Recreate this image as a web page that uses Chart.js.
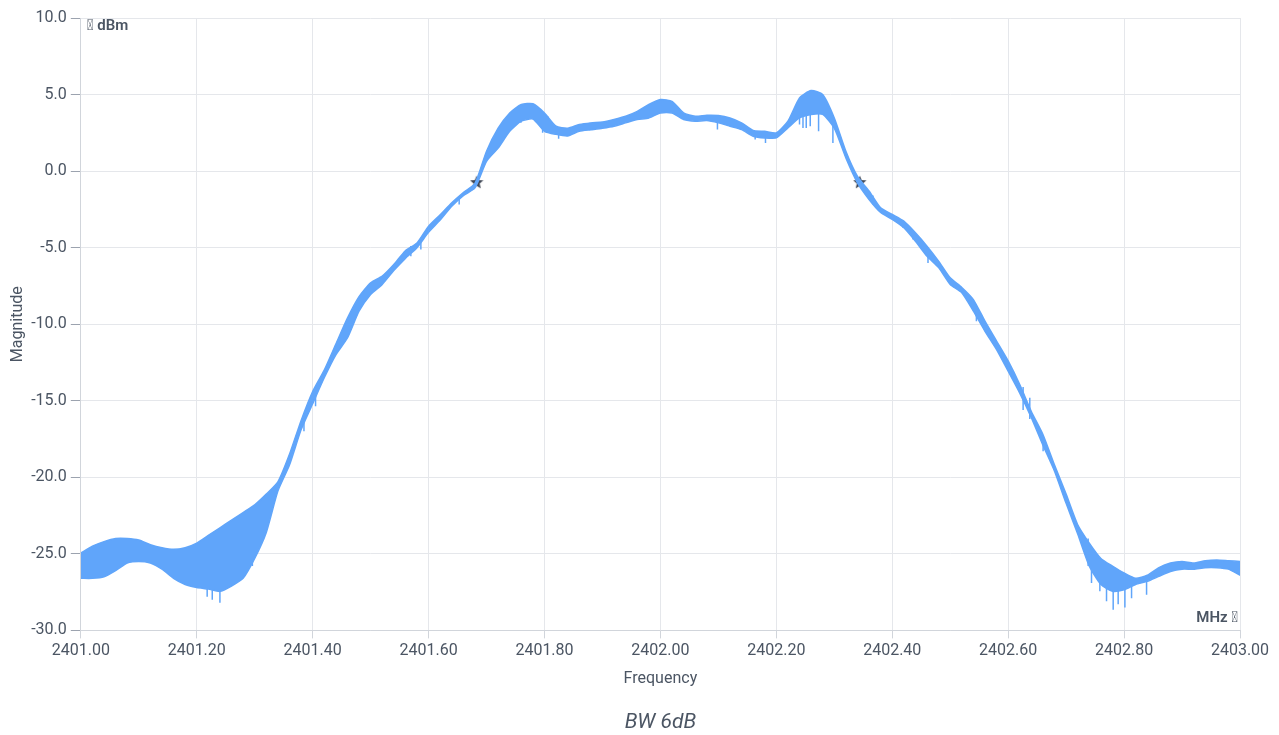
<!DOCTYPE html>
<html>
<head>
<meta charset="utf-8">
<script src="https://cdn.jsdelivr.net/npm/chart.js@4.4.0/dist/chart.umd.min.js"></script>
<style>
  body { margin: 0; background: #fff; }
  #wrap { width: 1279px; height: 735px; }
</style>
</head>
<body>
<div id="wrap"><canvas id="myChart" width="1279" height="735"></canvas></div>
<script>
// Frequencies (MHz)
var freqs = [2401.00,2401.02,2401.04,2401.06,2401.08,2401.10,2401.12,2401.14,2401.16,2401.18,
  2401.20,2401.22,2401.24,2401.26,2401.28,2401.30,2401.32,2401.34,2401.36,2401.38,
  2401.40,2401.42,2401.44,2401.46,2401.48,2401.50,2401.52,2401.54,2401.56,2401.58,
  2401.60,2401.62,2401.64,2401.66,2401.68,2401.70,2401.72,2401.74,2401.76,2401.78,
  2401.80,2401.82,2401.84,2401.86,2401.88,2401.90,2401.92,2401.94,2401.96,2401.98,
  2402.00,2402.02,2402.04,2402.06,2402.08,2402.10,2402.12,2402.14,2402.16,2402.18,
  2402.20,2402.22,2402.24,2402.26,2402.28,2402.30,2402.32,2402.34,2402.36,2402.38,
  2402.40,2402.42,2402.44,2402.46,2402.48,2402.50,2402.52,2402.54,2402.56,2402.58,
  2402.60,2402.62,2402.64,2402.66,2402.68,2402.70,2402.72,2402.74,2402.76,2402.78,
  2402.80,2402.82,2402.84,2402.86,2402.88,2402.90,2402.92,2402.94,2402.96,2402.98,2403.00];

// upper edge of the trace (dBm)
var magMax = [-24.95,-24.5,-24.2,-24.0,-24.0,-24.1,-24.4,-24.6,-24.7,-24.6,
  -24.3,-23.8,-23.3,-22.8,-22.3,-21.8,-21.1,-20.3,-18.5,-16.3,
  -14.4,-13.0,-11.3,-9.6,-8.2,-7.3,-6.86,-6.1,-5.2,-4.7,
  -3.6,-2.85,-2.07,-1.4,-0.8,1.3,2.8,3.8,4.35,4.4,
  3.8,2.93,2.8,3.04,3.15,3.2,3.37,3.58,3.9,4.35,
  4.67,4.56,3.8,3.58,3.65,3.63,3.47,3.15,2.65,2.6,
  2.5,3.26,4.78,5.26,5.0,3.47,1.3,-0.34,-1.3,-2.4,
  -2.83,-3.27,-4.03,-4.9,-5.88,-6.97,-7.6,-8.39,-9.8,-11.1,
  -12.4,-13.94,-15.7,-17.2,-19.2,-21.1,-23.1,-24.3,-25.3,-25.8,
  -26.25,-26.6,-26.4,-25.9,-25.6,-25.5,-25.6,-25.45,-25.4,-25.45,-25.5];

// lower edge of the trace (dBm)
var magMin = [-26.6,-26.6,-26.5,-26.1,-25.6,-25.5,-25.6,-26.0,-26.6,-27.0,
  -27.2,-27.3,-27.45,-27.1,-26.6,-25.3,-23.6,-20.9,-19.2,-16.9,
  -15.2,-13.5,-12.0,-10.9,-9.15,-8.06,-7.4,-6.5,-5.7,-5.0,
  -4.0,-3.2,-2.3,-1.6,-1.1,0.64,1.5,2.6,3.26,3.4,
  2.6,2.4,2.3,2.6,2.7,2.8,2.93,3.15,3.37,3.47,
  3.8,3.8,3.37,3.26,3.3,3.15,2.93,2.71,2.28,2.17,
  2.17,2.82,3.47,3.7,3.7,2.8,0.86,-0.77,-1.85,-2.7,
  -3.16,-3.7,-4.58,-5.56,-6.3,-7.4,-7.95,-9.15,-10.46,-11.66,
  -13.07,-14.5,-16.1,-17.9,-19.6,-21.7,-23.7,-25.8,-27.0,-27.45,
  -27.35,-27.0,-26.8,-26.47,-26.15,-26.0,-26.0,-25.9,-25.9,-26.0,-26.4];

// downward needles in the trace
var spikeFreqs = [2401.218,2401.2268,2401.240,2401.296,2401.315,2401.385,2401.405,2401.5694,2401.5867,2401.6528,
  2401.7594,2401.7968,2401.8054,2401.8244,2402.0984,2402.1635,2402.1813,2402.240,2402.246,2402.2516,
  2402.2585,2402.2729,2402.2976,2402.3667,2402.4185,2402.4358,2402.4617,2402.5452,2402.6258,2402.6373,
  2402.6603,2402.738,2402.7438,2402.7582,2402.7697,2402.7812,2402.7898,2402.8014,2402.8129,2402.8388];
var spikeTops = [-26.8,-26.9,-27.0,-24.5,-22.5,-16.3,-14.6,-4.9,-4.6,-1.8,
  3.4,3.7,3.6,2.6,3.4,2.4,2.4,4.35,4.6,4.8,
  5.0,4.8,3.47,-1.6,-3.3,-3.9,-5.2,-9.0,-14.1,-14.8,
  -17.3,-24.0,-25.0,-25.6,-25.8,-26.0,-26.1,-26.3,-26.5,-26.4];
var spikeBottoms = [-27.8,-28.0,-28.2,-25.8,-24.07,-17.0,-15.36,-5.56,-5.12,-2.18,
  3.15,2.5,2.6,2.12,2.71,2.06,1.84,3.04,2.82,2.82,
  2.93,2.6,1.84,-2.18,-3.7,-4.47,-6.0,-9.8,-15.6,-16.2,
  -18.3,-25.8,-26.9,-27.45,-28.1,-28.65,-28.3,-28.5,-27.9,-27.67];

// -6 dB bandwidth markers
var markerFreqs = [2401.683, 2402.344];
var markerMags = [-0.72, -0.72];

var blue = '#60a5fa';
var textGray = '#4b5563';
Chart.defaults.font.family = 'Roboto, "Noto Sans", sans-serif';
Chart.defaults.color = textGray;

// filled star for the markers
function makeStar(size, color) {
  var c = document.createElement('canvas');
  c.width = size; c.height = size;
  var g = c.getContext('2d');
  var cx = size / 2, cy = size / 2 + 0.5, ro = size / 2, ri = ro * 0.45;
  g.beginPath();
  for (var i = 0; i < 10; i++) {
    var r = i % 2 === 0 ? ro : ri;
    var a = -Math.PI / 2 + i * Math.PI / 5;
    g.lineTo(cx + r * Math.cos(a), cy + r * Math.sin(a));
  }
  g.closePath();
  g.fillStyle = color;
  g.fill();
  return c;
}
var starImg = makeStar(14, '#3f4756');

var lowerPts = freqs.map(function (f, i) { return { x: f, y: magMin[i] }; });
var upperPts = freqs.map(function (f, i) { return { x: f, y: magMax[i] }; });
var spikePts = [];
spikeFreqs.forEach(function (f, i) {
  spikePts.push({ x: f, y: spikeTops[i] });
  spikePts.push({ x: f, y: spikeBottoms[i] });
  spikePts.push({ x: f, y: null });
});
var markerPts = markerFreqs.map(function (f, i) { return { x: f, y: markerMags[i] }; });

// unit labels inside the plot
var unitLabels = {
  id: 'unitLabels',
  afterDraw: function (chart) {
    var ctx = chart.ctx, a = chart.chartArea;
    ctx.save();
    ctx.fillStyle = textGray;
    ctx.font = '600 15px Roboto, sans-serif';
    ctx.textBaseline = 'middle';
    ctx.textAlign = 'left';
    ctx.fillText('\ue5d8 dBm', a.left + 6, a.top + 8);
    ctx.textAlign = 'right';
    ctx.fillText('MHz \ue5c8', a.right - 2, a.bottom - 12);
    ctx.restore();
  }
};

var config = {
  type: 'line',
  data: {
    datasets: [{
      data: lowerPts,
      borderColor: blue,
      borderWidth: 1.5,
      pointRadius: 0,
      tension: 0.2,
      fill: false
    }, {
      data: upperPts,
      borderColor: blue,
      backgroundColor: blue,
      borderWidth: 1.5,
      pointRadius: 0,
      tension: 0.2,
      fill: '-1'
    }, {
      data: spikePts,
      borderColor: blue,
      borderWidth: 1.5,
      pointRadius: 0,
      spanGaps: false,
      fill: false
    }, {
      data: markerPts,
      showLine: false,
      pointStyle: starImg,
      pointRadius: 7,
      fill: false
    }]
  },
  options: {
    responsive: false,
    animation: false,
    layout: { padding: { top: 18, right: 39, left: 4, bottom: 0 } },
    plugins: {
      legend: { display: false },
      tooltip: { enabled: false },
      title: {
        display: true,
        position: 'bottom',
        fullSize: false,
        text: 'BW 6dB',
        color: textGray,
        font: { size: 21, style: 'italic', weight: 'normal' },
        padding: { top: 17, bottom: 0 }
      }
    },
    scales: {
      x: {
        type: 'linear',
        min: 2401,
        max: 2403,
        grid: { color: '#e5e7eb', tickLength: 8, tickColor: '#d1d5db' },
        border: { color: '#d1d5db' },
        ticks: {
          stepSize: 0.2,
          maxRotation: 0,
          font: { size: 16 },
          callback: function (value) { return value.toFixed(2); }
        },
        title: { display: true, text: 'Frequency', font: { size: 16 }, padding: { top: 6 } }
      },
      y: {
        min: -30,
        max: 10,
        grid: { color: '#e5e7eb', tickLength: 10, tickColor: '#9ca3af' },
        border: { color: '#d1d5db' },
        ticks: {
          stepSize: 5,
          font: { size: 16 },
          padding: 4,
          callback: function (value) { return value.toFixed(1); }
        },
        title: { display: true, text: 'Magnitude', font: { size: 16 }, padding: { top: 4, bottom: 0 } }
      }
    }
  },
  plugins: [unitLabels]
};

const myChart = new Chart(
  document.getElementById('myChart'),
  config
);
</script>
</body>
</html>
